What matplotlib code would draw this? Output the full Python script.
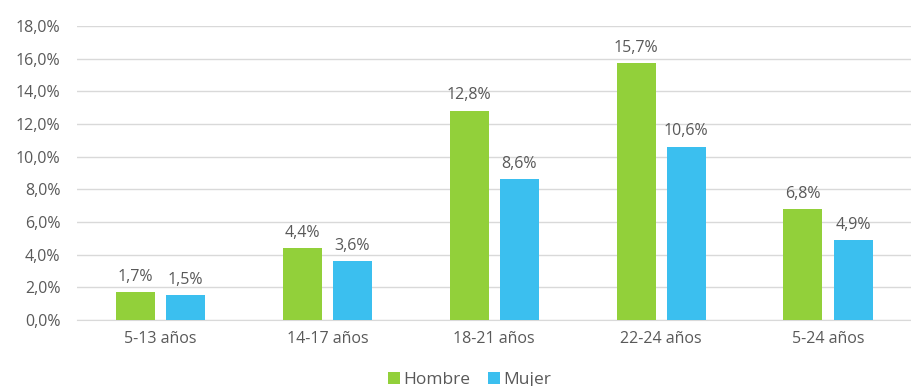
import matplotlib.pyplot as plt
import numpy as np

GREEN = "#92D03A"
BLUE = "#3BBFEF"
TEXT = "#595959"
GRID = "#D9D9D9"

categories = ["5-13 años", "14-17 años", "18-21 años", "22-24 años", "5-24 años"]
hombre = [1.7, 4.4, 12.8, 15.7, 6.8]
mujer = [1.5, 3.6, 8.6, 10.6, 4.9]


def pct(v):
    return f"{v:.1f}%".replace(".", ",")


plt.rcParams["font.family"] = ["Open Sans", "DejaVu Sans"]

fig = plt.figure(figsize=(9.12, 3.86), dpi=100)
ax = fig.add_axes([0.0844, 0.171, 0.915, 0.762])

x = np.arange(len(categories))
width = 0.234
offset = 0.15
bars_h = ax.bar(x - offset, hombre, width, color=GREEN, label="Hombre", zorder=3)
bars_m = ax.bar(x + offset, mujer, width, color=BLUE, label="Mujer", zorder=3)

for bars, vals in ((bars_h, hombre), (bars_m, mujer)):
    for bar, v in zip(bars, vals):
        ax.text(bar.get_x() + bar.get_width() / 2, v + 0.45, pct(v),
                ha="center", va="bottom", fontsize=11.5, color=TEXT)

ax.set_xlim(-0.5, len(categories) - 0.5)
ax.set_ylim(0, 18)
ticks = np.arange(0, 18.1, 2)
ax.set_yticks(ticks)
ax.set_yticklabels([pct(v) for v in ticks])
ax.set_xticks(x)
ax.set_xticklabels(categories)
ax.tick_params(axis="both", length=0, labelsize=11.5, colors=TEXT)
ax.tick_params(axis="x", pad=8)
ax.tick_params(axis="y", pad=12)
ax.grid(axis="y", color=GRID, linewidth=1, zorder=0)
for side in ("top", "right", "left"):
    ax.spines[side].set_visible(False)
ax.spines["bottom"].set_color(GRID)

fig.legend(handles=[bars_h, bars_m], loc="lower center", bbox_to_anchor=(0.515, -0.045),
           ncol=2, frameon=False, fontsize=12.5, labelcolor=TEXT,
           handlelength=0.7, handleheight=0.7, handletextpad=0.2, columnspacing=1.0)

fig.savefig("out.png", dpi=100, facecolor="white")
